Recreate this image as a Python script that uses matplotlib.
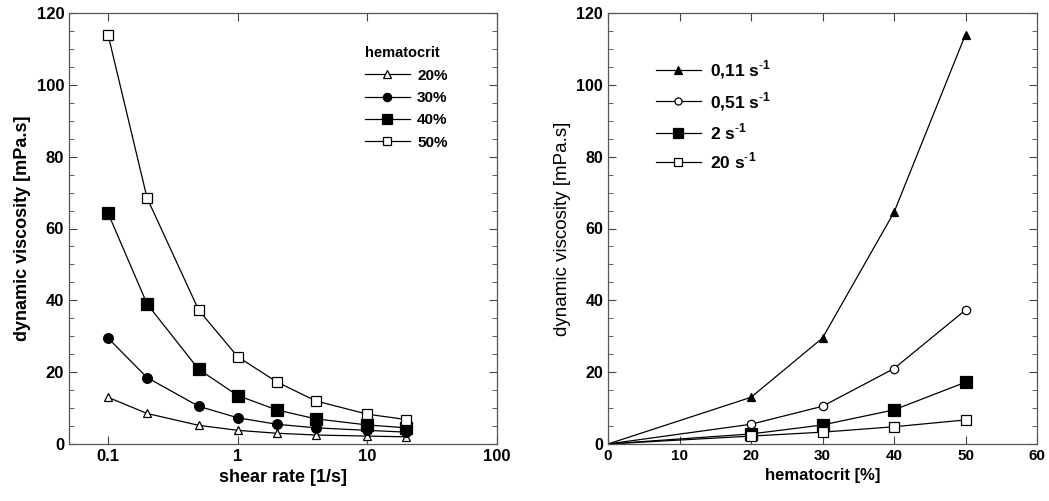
import numpy as np
import matplotlib
matplotlib.use('Agg')
import matplotlib.pyplot as plt
from matplotlib.ticker import MultipleLocator, FixedLocator, NullLocator

plt.rcParams['font.family'] = ['Liberation Sans', 'DejaVu Sans']
plt.rcParams['mathtext.fontset'] = 'custom'
plt.rcParams['mathtext.rm'] = 'Liberation Sans'
plt.rcParams['mathtext.bf'] = 'Liberation Sans:bold'

# left panel: viscosity vs shear rate
shear = [0.1, 0.2, 0.5, 1, 2, 4, 10, 20]
hct_labels = ['20%', '30%', '40%', '50%']
visc_20 = [13.0, 8.5, 5.2, 3.8, 3.0, 2.5, 2.2, 2.0]
visc_30 = [29.5, 18.5, 10.5, 7.3, 5.5, 4.5, 3.8, 3.3]
visc_40 = [64.3, 39.0, 20.8, 13.5, 9.5, 7.0, 5.3, 4.5]
visc_50 = [114.0, 68.5, 37.3, 24.3, 17.3, 12.0, 8.3, 6.8]

# right panel: viscosity vs hematocrit
hct = [0, 20, 30, 40, 50]
rate_labels = [r'0,11 s$^{\mathbf{\text{-}1}}$', r'0,51 s$^{\mathbf{\text{-}1}}$',
               r'2 s$^{\mathbf{\text{-}1}}$', r'20 s$^{\mathbf{\text{-}1}}$']
r_011 = [0, 13.0, 29.5, 64.5, 114.0]
r_051 = [0, 5.5, 10.5, 21.0, 37.3]
r_2 = [0, 2.8, 5.3, 9.5, 17.2]
r_20 = [0, 2.2, 3.3, 4.8, 6.7]

fig = plt.figure(figsize=(10.49, 5.01), dpi=100)
ax1 = fig.add_axes([69/1049, 57/501, 428/1049, 431/501])
ax2 = fig.add_axes([608/1049, 57/501, 429/1049, 431/501])

styles = [
    dict(marker='^', mfc='white', ms=6),
    dict(marker='o', mfc='black', ms=7),
    dict(marker='s', mfc='black', ms=8),
    dict(marker='s', mfc='white', ms=7),
]

for y, lab, st in zip([visc_20, visc_30, visc_40, visc_50], hct_labels, styles):
    ax1.plot(shear, y, color='black', lw=0.9, mec='black', mew=0.9, label=lab, **st)

ax1.set_xscale('log')
ax1.set_xlim(0.05, 100)
ax1.set_ylim(0, 120)
ax1.xaxis.set_major_locator(FixedLocator([0.1, 1, 10, 100]))
ax1.xaxis.set_minor_locator(NullLocator())
ax1.set_xticklabels(['0.1', '1', '10', '100'])
ax1.set_xlabel('shear rate [1/s]', fontsize=13, fontweight='bold')
ax1.set_ylabel('dynamic viscosity [mPa.s]', fontsize=13, fontweight='bold')
leg1 = ax1.legend(title='hematocrit', loc='upper left', bbox_to_anchor=(0.66, 0.955),
                  frameon=False, prop={'weight': 'bold', 'size': 11},
                  title_fontproperties={'weight': 'bold', 'size': 10.5},
                  handlelength=2.9, labelspacing=0.55, handletextpad=0.5,
                  markerscale=0.85)
leg1._legend_box.align = 'left'

styles2 = [
    dict(marker='^', mfc='black', ms=6),
    dict(marker='o', mfc='white', ms=6),
    dict(marker='s', mfc='black', ms=8),
    dict(marker='s', mfc='white', ms=7),
]
for y, lab, st in zip([r_011, r_051, r_2, r_20], rate_labels, styles2):
    ax2.plot(hct, y, color='black', lw=0.9, mec='black', mew=0.9, label=lab,
             markevery=[1, 2, 3, 4], **st)

ax2.set_xlim(0, 60)
ax2.set_ylim(0, 120)
ax2.xaxis.set_major_locator(MultipleLocator(10))
ax2.set_xlabel('hematocrit [%]', fontsize=12, fontweight='bold')
ax2.set_ylabel('dynamic viscosity [mPa.s]', fontsize=13.5)
ax2.legend(loc='upper left', bbox_to_anchor=(0.075, 0.93), frameon=False,
           prop={'weight': 'bold', 'size': 12.5}, handlelength=2.6,
           labelspacing=0.5, handletextpad=0.5, markerscale=0.85)

for ax in (ax1, ax2):
    ax.yaxis.set_major_locator(MultipleLocator(20))
    ax.yaxis.set_minor_locator(MultipleLocator(5))
    ax.tick_params(which='both', direction='in', top=True, right=True,
                   color='#444444')
    ax.tick_params(which='major', length=6)
    ax.tick_params(which='minor', length=3.5)
    for sp in ax.spines.values():
        sp.set_color('#555555')
        sp.set_linewidth(0.9)

ax1.tick_params(labelsize=12)
ax2.tick_params(axis='x', labelsize=11)
ax2.tick_params(axis='y', labelsize=11.5)
for ax in (ax1, ax2):
    for lbl in ax.get_xticklabels() + ax.get_yticklabels():
        lbl.set_fontweight('bold')

fig.savefig('out.png', dpi=100)
